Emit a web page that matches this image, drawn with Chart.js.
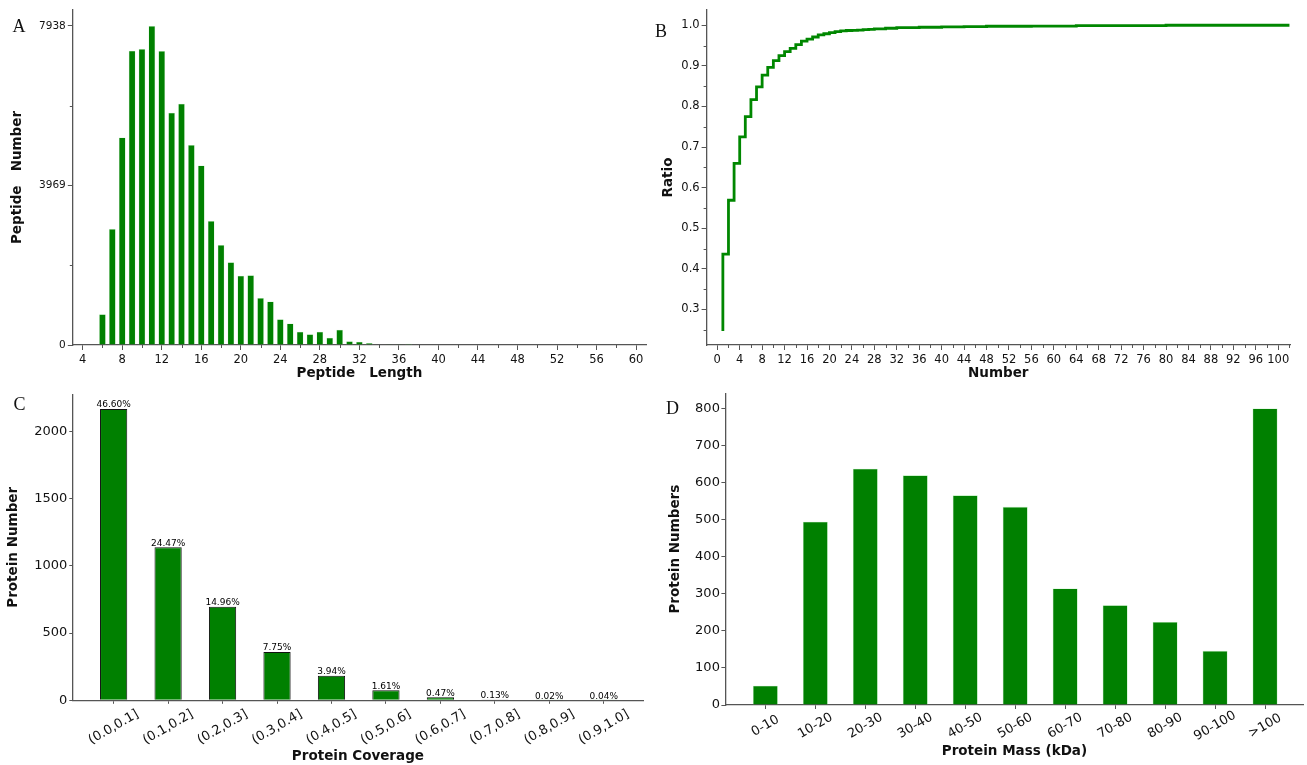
<!DOCTYPE html>
<html><head><meta charset="utf-8">
<script src="https://cdn.jsdelivr.net/npm/chart.js@4.4.0/dist/chart.umd.min.js"></script>
<style>
html,body{margin:0;padding:0;background:#fff;width:1307px;height:765px;overflow:hidden;}
canvas{position:absolute;}
.lab{position:absolute;font-family:"Liberation Serif","DejaVu Serif",serif;font-size:18px;line-height:18px;color:#111;}
</style></head><body>
<canvas id="cA" width="653" height="385" style="left:0px;top:0px"></canvas>
<canvas id="cB" width="654" height="385" style="left:653px;top:0px"></canvas>
<canvas id="cC" width="653" height="380" style="left:0px;top:385px"></canvas>
<canvas id="cD" width="654" height="380" style="left:653px;top:385px"></canvas>
<div class="lab" style="left:12.5px;top:17.2px">A</div>
<div class="lab" style="left:655px;top:21.5px">B</div>
<div class="lab" style="left:13.5px;top:395px">C</div>
<div class="lab" style="left:666px;top:399px">D</div>
<script>
// ---------- Panel A: peptide length distribution ----------
const peptideLengths = [6,7,8,9,10,11,12,13,14,15,16,17,18,19,20,21,22,23,24,25,26,27,28,29,30,31,32,33,34,35,36,37];
const peptideCounts  = [765,2884,5162,7323,7365,7938,7315,5777,6001,4979,4464,3084,2485,2061,1721,1737,1172,1081,640,532,332,266,332,183,382,91,83,50,10,5,5,30];
const peptideXTicks  = [4,8,12,16,20,24,28,32,36,40,44,48,52,56,60];
const peptideYTicks  = [0,3969,7938];

// ---------- Panel B: cumulative ratio by peptide number ----------
const peptideNumbers  = [1,2,3,4,5,6,7,8,9,10,11,12,13,14,15,16,17,18,19,20,21,22,23,24,25,26,27,28,30,32,36,40,44,48,56,64,80,102];
const cumulativeRatio = [0.247,0.4365,0.569,0.660,0.725,0.775,0.817,0.848,0.877,0.896,0.913,0.925,0.935,0.943,0.952,0.961,0.966,0.971,0.976,0.979,0.982,0.984,0.986,0.987,0.9875,0.988,0.989,0.990,0.991,0.9926,0.994,0.995,0.996,0.9967,0.9975,0.998,0.999,1.0];
const numberXTicks = [0,4,8,12,16,20,24,28,32,36,40,44,48,52,56,60,64,68,72,76,80,84,88,92,96,100];
const ratioYTicks  = [0.3,0.4,0.5,0.6,0.7,0.8,0.9,1.0];

// ---------- Panel C: protein coverage ----------
const coverageBins     = ['(0.0,0.1]','(0.1,0.2]','(0.2,0.3]','(0.3,0.4]','(0.4,0.5]','(0.5,0.6]','(0.6,0.7]','(0.7,0.8]','(0.8,0.9]','(0.9,1.0]'];
const coverageCounts   = [2166,1137,695,360,183,75,22,6,1,2];
const coveragePercents = ['46.60%','24.47%','14.96%','7.75%','3.94%','1.61%','0.47%','0.13%','0.02%','0.04%'];
const coverageYTicks   = [0,500,1000,1500,2000];

// ---------- Panel D: protein mass ----------
const massBins   = ['0-10','10-20','20-30','30-40','40-50','50-60','60-70','70-80','80-90','90-100','>100'];
const massCounts = [52,494,637,619,565,534,314,269,224,146,799];
const massYTicks = [0,100,200,300,400,500,600,700,800];

const FAM = "'DejaVu Sans', 'Liberation Sans', sans-serif";
const GREEN = '#008000';
Chart.defaults.color = '#111';
Chart.defaults.font.family = FAM;

function fixW(w){ return s => { s.width = w; s.paddingTop = 0; s.paddingBottom = 0; s.paddingLeft = 0; s.paddingRight = 0; }; }
function fixH(h){ return s => { s.height = h; s.paddingTop = 0; s.paddingBottom = 0; s.paddingLeft = 0; s.paddingRight = 0; }; }
function useTicks(vals){ return s => { s.ticks = vals.map(v => ({value: v})); }; }
function grid(len){ return {display:true, drawOnChartArea:false, drawTicks:true, tickLength:len, tickColor:'#555', tickWidth:1, offset:false}; }
const border = {display:true, color:'#555', width:1.3};
function title(text, pt, pb){ return {display:true, text:text, color:'#111', font:{family:FAM, size:13.5, weight:'bold'}, padding:{top:pt, bottom:pb}}; }
const plain = v => String(v);

const minorTicks = {
  id: 'minorTicks',
  afterDraw(chart, args, o) {
    const ctx = chart.ctx, xs = chart.scales.x, ys = chart.scales.y;
    ctx.save(); ctx.strokeStyle = '#555'; ctx.lineWidth = 1;
    (o.x || []).forEach(v => { const p = Math.round(xs.getPixelForValue(v)) + 0.5; ctx.beginPath(); ctx.moveTo(p, xs.top); ctx.lineTo(p, xs.top + o.len); ctx.stroke(); });
    (o.y || []).forEach(v => { const p = Math.round(ys.getPixelForValue(v)) + 0.5; ctx.beginPath(); ctx.moveTo(ys.right, p); ctx.lineTo(ys.right - o.len, p); ctx.stroke(); });
    ctx.restore();
  }
};
const rotLabels = {
  id: 'rotLabels',
  afterDraw(chart, args, o) {
    if (!o.labels) return;
    const ctx = chart.ctx, xs = chart.scales.x;
    ctx.save(); ctx.font = o.font; ctx.fillStyle = '#111'; ctx.textAlign = 'center'; ctx.textBaseline = 'middle';
    o.labels.forEach((t, i) => { ctx.save(); ctx.translate(xs.getPixelForValue(i), xs.top + o.dy); ctx.rotate(-Math.PI / 6); ctx.fillText(t, 0, 0); ctx.restore(); });
    ctx.restore();
  }
};
const barLabels = {
  id: 'barLabels',
  afterDatasetsDraw(chart, args, o) {
    if (!o.labels) return;
    const ctx = chart.ctx, meta = chart.getDatasetMeta(0);
    ctx.save(); ctx.font = o.font; ctx.fillStyle = '#000'; ctx.textAlign = 'center'; ctx.textBaseline = 'alphabetic';
    meta.data.forEach((el, i) => ctx.fillText(o.labels[i], el.x, el.y - 1.5));
    ctx.restore();
  }
};
const PLUGINS = [minorTicks, rotLabels, barLabels];
const base = {responsive:false, animation:false, events:[]};

function range(a, b, step){ const r = []; for (let v = a; v <= b + 1e-9; v += step) r.push(+v.toFixed(4)); return r; }

// Panel A
new Chart(document.getElementById('cA'), {
  type: 'bar',
  data: { datasets: [{ data: peptideLengths.map((x, i) => ({x: x, y: peptideCounts[i]})), backgroundColor: GREEN, borderColor: 'rgba(170,235,170,0.7)', borderWidth: 0.5, categoryPercentage: 1, barPercentage: 0.68 }] },
  options: Object.assign({}, base, {
    layout: {padding: {left:0, top:10, right:7, bottom:0}},
    plugins: { legend:{display:false}, tooltip:{enabled:false},
      minorTicks: { x: range(6, 58, 4), y: [1984.5, 5953.5], len: 3 } },
    scales: {
      x: { type:'linear', offset:false, min:3, max:61, grid:grid(5), border:border, afterBuildTicks:useTicks(peptideXTicks), afterFit:fixH(40),
           ticks:{autoSkip:false, maxRotation:0, minRotation:0, padding:3, font:{size:11.5}, callback:plain}, title:title('Peptide   Length', 0, 3.6) },
      y: { type:'linear', min:0, max:8335, grid:grid(5), border:border, afterBuildTicks:useTicks(peptideYTicks), afterFit:fixW(72.8),
           ticks:{padding:2, font:{size:10.5}, callback:plain}, title:title('Peptide   Number', 8.9, 0) }
    }
  }),
  plugins: PLUGINS
});

// Panel B
new Chart(document.getElementById('cB'), {
  type: 'line',
  data: { datasets: [{ data: peptideNumbers.map((x, i) => ({x: x, y: cumulativeRatio[i]})), borderColor: 'rgb(0,135,0)', borderWidth: 2.8, pointRadius: 0, stepped: 'after', fill: false }] },
  options: Object.assign({}, base, {
    layout: {padding: {left:0, top:10, right:17, bottom:0}},
    plugins: { legend:{display:false}, tooltip:{enabled:false},
      minorTicks: { x: range(2, 102, 4), y: range(0.25, 0.95, 0.1), len: 3 } },
    scales: {
      x: { type:'linear', min:-1.9, max:102.1, grid:grid(5), border:border, afterBuildTicks:useTicks(numberXTicks), afterFit:fixH(40),
           ticks:{autoSkip:false, maxRotation:0, minRotation:0, padding:3, font:{size:11.5}, callback:plain}, title:title('Number', 0, 3.6) },
      y: { type:'linear', min:0.2125, max:1.0375, grid:grid(5), border:border, afterBuildTicks:useTicks(ratioYTicks), afterFit:fixW(53.6),
           ticks:{padding:2, font:{size:11.5}, callback: v => Number(v).toFixed(1)}, title:title('Ratio', 7.8, 0) }
    }
  }),
  plugins: PLUGINS
});

// Panel C
new Chart(document.getElementById('cC'), {
  type: 'bar',
  data: { datasets: [{ data: coverageCounts.map((v, i) => ({x: i, y: v})), backgroundColor: GREEN, borderColor: '#111', borderWidth: 1, categoryPercentage: 1, barPercentage: 0.5 }] },
  options: Object.assign({}, base, {
    layout: {padding: {left:0, top:9.3, right:10, bottom:0}},
    plugins: { legend:{display:false}, tooltip:{enabled:false},
      rotLabels: { labels: coverageBins, font: "13px " + FAM, dy: 27 },
      barLabels: { labels: coveragePercents, font: "9px " + FAM } },
    scales: {
      x: { type:'linear', offset:false, min:-0.75, max:9.72, grid:grid(3.5), border:border, afterBuildTicks:useTicks(coverageBins.map((b, i) => i)), afterFit:fixH(64.7),
           ticks:{display:false}, title:title('Protein Coverage', 0, 0.2) },
      y: { type:'linear', min:0, max:2275, grid:grid(3.5), border:border, afterBuildTicks:useTicks(coverageYTicks), afterFit:fixW(72.8),
           ticks:{padding:2, font:{size:13}, callback:plain}, title:title('Protein Number', 5.8, 0) }
    }
  }),
  plugins: PLUGINS
});

// Panel D
new Chart(document.getElementById('cD'), {
  type: 'bar',
  data: { datasets: [{ data: massCounts.map((v, i) => ({x: i, y: v})), backgroundColor: GREEN, borderColor: 'rgba(150,230,150,0.8)', borderWidth: 0.6, categoryPercentage: 1, barPercentage: 0.5 }] },
  options: Object.assign({}, base, {
    layout: {padding: {left:0, top:8.3, right:3.5, bottom:0}},
    plugins: { legend:{display:false}, tooltip:{enabled:false},
      rotLabels: { labels: massBins, font: "13px " + FAM, dy: 21 } },
    scales: {
      x: { type:'linear', offset:false, min:-0.8, max:10.77, grid:grid(4), border:border, afterBuildTicks:useTicks(massBins.map((b, i) => i)), afterFit:fixH(60),
           ticks:{display:false}, title:title('Protein Mass (kDa)', 0, 5.2) },
      y: { type:'linear', min:0, max:840, grid:grid(4), border:border, afterBuildTicks:useTicks(massYTicks), afterFit:fixW(72.4),
           ticks:{padding:1.5, font:{size:13}, callback:plain}, title:title('Protein Numbers', 14, 0) }
    }
  }),
  plugins: PLUGINS
});
</script>
</body></html>
